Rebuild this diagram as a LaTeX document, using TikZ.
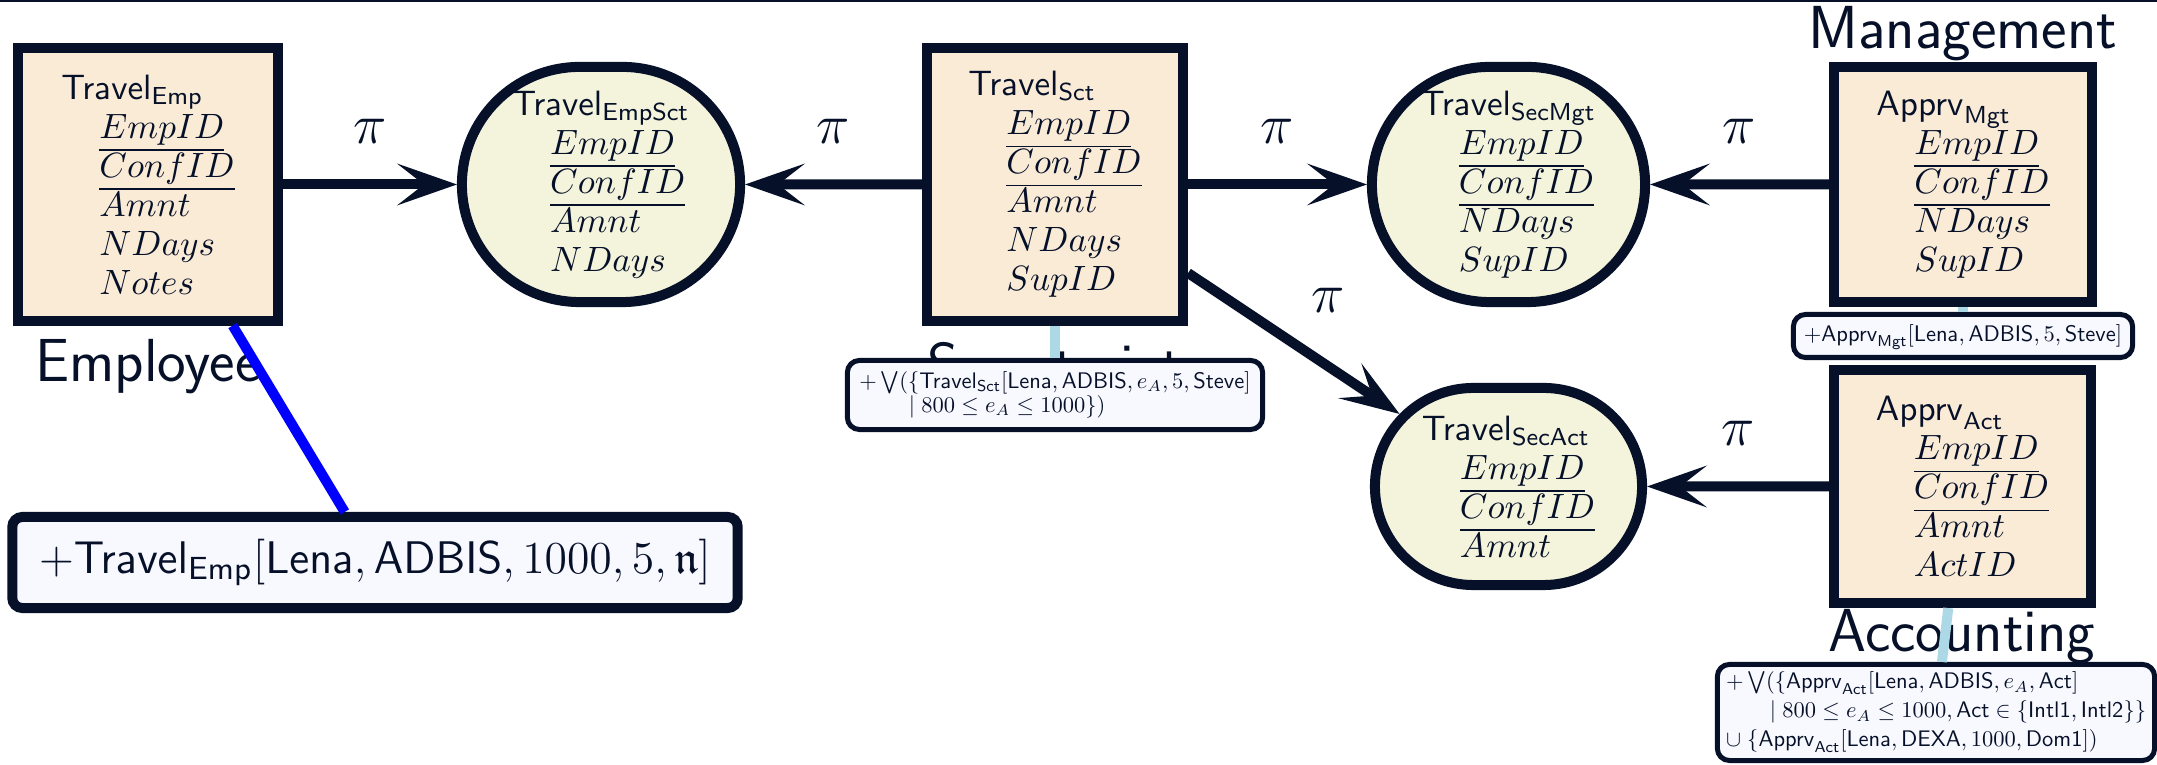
\documentclass[tikz,border=0pt]{standalone}
\usepackage{fix-cm}
\usepackage{amssymb}
\usepackage{graphicx}
\usetikzlibrary{arrows.meta,shapes.misc}
\definecolor{navy}{HTML}{061129}
\definecolor{boxfill}{HTML}{FAEBD7}
\definecolor{ellfill}{HTML}{F4F4DC}
\definecolor{callfill}{HTML}{F8F8FF}
\definecolor{linkblue}{HTML}{0000FF}
\definecolor{linklight}{HTML}{ADD8E6}
\newcommand\attrfont{\fontsize{10}{11.1}\selectfont}
\newcommand\labfont{\fontsize{17.28}{20}\selectfont\sffamily}
\newcommand\pisize{\fontsize{16}{19}\selectfont}
\newcommand\calbig{\fontsize{13}{15.6}\selectfont}
\newcommand\calten{\fontsize{10}{12}\selectfont}
\newcommand\attind{\hspace*{10.8pt}}
\newcommand\relname[2]{$\mathsf{#1}_{\mathsf{#2}}$}
\newcommand\calscale[1]{\scalebox{0.64}{\calten\begin{tabular}{@{}l@{}}#1\end{tabular}}}
\tikzset{
  relbox/.style={draw=navy, fill=boxfill, line width=0.1cm, rectangle, inner sep=0pt,
    align=left, font=\attrfont, text=navy},
  relell/.style={draw=navy, fill=ellfill, line width=0.1cm, rounded rectangle, inner sep=0pt},
  attrtext/.style={align=left, font=\attrfont, text=navy, inner sep=0pt},
  callout/.style={draw=navy, fill=callfill, line width=0.05cm, rounded corners=0.12cm,
    align=left, text=navy, inner sep=1.5pt},
  biglab/.style={font=\labfont, text=navy, inner sep=0pt},
  piarrow/.style={draw=navy, line width=0.1cm,
    -{Stealth[length=0.6cm,width=0.42cm,inset=0.27cm,line width=0pt]}},
  pilab/.style={font=\pisize, text=navy, inner sep=0pt},
  link/.style={line width=0.1cm},
}
\begin{document}
\begin{tikzpicture}[x=0.01cm,y=-0.01cm]
\useasboundingbox (0,0) rectangle (2157,765);
\fill[white] (0,0) rectangle (2157,765);
\draw[navy, line width=0.025cm] (0,1) -- (2157,1);

% relation boxes
\node[relbox, minimum width=2.59cm, minimum height=2.72cm] (emp) at (148,184.5)
  {\relname{Travel}{Emp}\\\attind$\underline{EmpID}$\\\attind$\underline{ConfID}$\\\attind$Amnt$\\\attind$NDays$\\\attind$Notes$};
\node[relbox, minimum width=2.56cm, minimum height=2.72cm] (sct) at (1055,184.5)
  {\relname{Travel}{Sct}\\\attind$\underline{EmpID}$\\\attind$\underline{ConfID}$\\\attind$Amnt$\\\attind$NDays$\\\attind$SupID$};
\node[relbox, minimum width=2.58cm, minimum height=2.35cm] (mgt) at (1963,184.5)
  {\relname{Apprv}{Mgt}\\\attind$\underline{EmpID}$\\\attind$\underline{ConfID}$\\\attind$NDays$\\\attind$SupID$};
\node[relbox, minimum width=2.57cm, minimum height=2.33cm] (act) at (1962.5,486.5)
  {\relname{Apprv}{Act}\\\attind$\underline{EmpID}$\\\attind$\underline{ConfID}$\\\attind$Amnt$\\\attind$ActID$};

% derived relations
\node[relell, minimum width=2.78cm, minimum height=2.35cm] (empsct) at (601,184.5) {};
\node[attrtext] (empsct-t) at (empsct.center)
  {\relname{Travel}{EmpSct}\\\attind$\underline{EmpID}$\\\attind$\underline{ConfID}$\\\attind$Amnt$\\\attind$NDays$};
\node[relell, minimum width=2.73cm, minimum height=2.35cm] (secmgt) at (1508.5,184.5) {};
\node[attrtext] (secmgt-t) at (secmgt.center)
  {\relname{Travel}{SecMgt}\\\attind$\underline{EmpID}$\\\attind$\underline{ConfID}$\\\attind$NDays$\\\attind$SupID$};
\node[relell, minimum width=2.67cm, minimum height=1.97cm] (secact) at (1508.5,486.5) {};
\node[attrtext] (secact-t) at (secact.center)
  {\relname{Travel}{SecAct}\\\attind$\underline{EmpID}$\\\attind$\underline{ConfID}$\\\attind$Amnt$};

% site labels
\node[biglab, anchor=base] (emplab) at (148,382) {Employee};
\node[biglab, anchor=base] (sctlab) at (1055,386) {Secretariat};
\node[biglab, anchor=base] (mgtlab) at (1963,49) {Management};
\node[biglab, anchor=base] (actlab) at (1962,652) {Accounting};

% callouts
\node[callout, minimum width=7.25cm, minimum height=0.91cm, font=\calbig,
  line width=0.1cm, rounded corners=0.1cm] (empc) at (375,562.5)
  {$+\mathsf{Travel}_{\mathsf{Emp}}[\mathsf{Lena},\mathsf{ADBIS},1000,5,\mathfrak{n}]$};
\node[callout, minimum width=4.15cm, minimum height=0.69cm] (sctc) at (1055,395)
  {\calscale{$+\bigvee(\{\mathsf{Travel}_{\mathsf{Sct}}[\mathsf{Lena},\mathsf{ADBIS},e_A,5,\mathsf{Steve}]$\\[-1.3pt]\hspace*{22pt}$\mid 800\le e_A\le 1000\})$}};
\node[callout, minimum width=3.39cm, minimum height=0.43cm] (mgtc) at (1963,336)
  {\calscale{$+\mathsf{Apprv}_{\mathsf{Mgt}}[\mathsf{Lena},\mathsf{ADBIS},5,\mathsf{Steve}]$}};
\node[callout, minimum width=4.37cm, minimum height=0.96cm] (actc) at (1936,712.5)
  {\calscale{$+\bigvee(\{\mathsf{Apprv}_{\mathsf{Act}}[\mathsf{Lena},\mathsf{ADBIS},e_A,\mathsf{Act}]$\\[0.9pt]\hspace*{19.5pt}$\mid 800\le e_A\le 1000,\mathsf{Act}\in\{\mathsf{Intl1},\mathsf{Intl2}\}\}$\\[0.9pt]$\cup\;\{\mathsf{Apprv}_{\mathsf{Act}}[\mathsf{Lena},\mathsf{DEXA},1000,\mathsf{Dom1}])$}};

% projection arrows
\draw[piarrow] (emp) -- node[pilab, above=0.36cm] (pi1) {$\pi$} (empsct);
\draw[piarrow] (sct) -- node[pilab, above=0.36cm] (pi2) {$\pi$} (empsct);
\draw[piarrow] (sct) -- node[pilab, above=0.36cm] (pi3) {$\pi$} (secmgt);
\draw[piarrow] (mgt) -- node[pilab, above=0.36cm] (pi4) {$\pi$} (secmgt);
\draw[piarrow] (sct) -- node[pilab, xshift=0.34cm, yshift=0.43cm] (pi5) {$\pi$} (secact);
\draw[piarrow] (act) -- node[pilab, above=0.36cm] (pi6) {$\pi$} (secact);

% update links
\draw[link, linkblue] (emp) -- (empc);
\draw[link, linklight] (sct) -- (sctc);
\draw[link, linklight] (mgt) -- (mgtc);
\draw[link, linklight] (act) -- (actc);
\end{tikzpicture}
\end{document}
